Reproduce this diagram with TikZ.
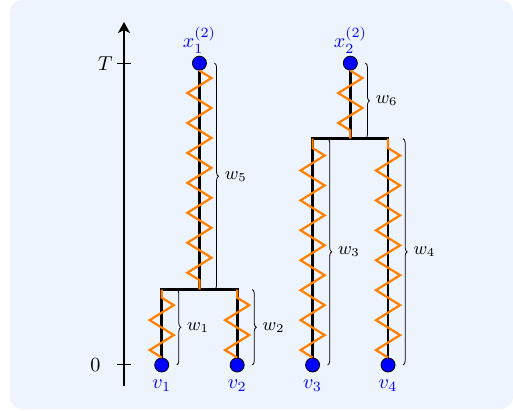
\documentclass[tikz,border=0pt]{standalone}
\usepackage{amsmath}
\usepackage{xcolor}
\usepackage{tikz}
\usetikzlibrary{calc,arrows.meta,decorations.pathmorphing,decorations.pathreplacing}
\definecolor{panelBlue}{HTML}{EEF4FD}
\definecolor{walkOrange}{HTML}{FF8000}
\definecolor{leafBlue}{HTML}{0000FF}
\tikzset{
  treenode/.style={circle, draw=black, fill=leafBlue, line width=0.4pt, minimum size=7pt, inner sep=0pt},
  leaflabel/.style={text=leafBlue},
  rootlabel/.style={text=leafBlue, inner sep=1pt},
  branch/.style={draw=black, line width=1.4pt},
  walk/.style={draw=walkOrange, line width=1.1pt, decorate, decoration={zigzag, segment length=14.9pt, amplitude=6pt}},
  wbrace/.style={draw=black, line width=0.4pt, decorate, decoration={brace, amplitude=2pt}},
  wlabel/.style={font=\small, right, inner sep=1pt, xshift=4pt},
  timeaxis/.style={-{Stealth[length=5.5pt,width=6pt,inset=1.5pt]}, line width=1.2pt},
  tick/.style={line width=0.5pt},
}

\begin{document}
\begin{tikzpicture}[x=0.88cm,y=0.88cm]
  \useasboundingbox (-2.465,-0.895) rectangle (7.734,7.256);
  \fill[panelBlue, rounded corners=6pt] (-2.266,-0.875) rectangle (7.734,7.256);

  % Time axis
  \coordinate (tbot) at (0,-0.42);
  \coordinate (ttop) at (0,6.82);
  \draw[timeaxis] (tbot) -- (ttop);
  \draw[tick] (-0.13,6) -- (0.13,6);
  \draw[tick] (-0.13,0) -- (0.13,0);
  \node (lblT) at (-0.37,6) {$T$};
  \node (lbl0) at (-0.57,0) {$0$};

  % Leaves and roots
  \node[treenode, label={[leaflabel]below:$v_1$}] (v1) at (0.75,0) {};
  \node[treenode, label={[leaflabel]below:$v_2$}] (v2) at (2.25,0) {};
  \node[treenode, label={[leaflabel]below:$v_3$}] (v3) at (3.75,0) {};
  \node[treenode, label={[leaflabel]below:$v_4$}] (v4) at (5.25,0) {};
  \node[treenode, label={[rootlabel]above:$x_1^{(2)}$}] (x1) at (1.5,6) {};
  \node[treenode, label={[rootlabel]above:$x_2^{(2)}$}] (x2) at (4.5,6) {};

  % Merge points
  \coordinate (m1) at (1.5,1.5);
  \coordinate (m2) at (4.5,4.5);
  \coordinate (c1) at (v1 |- m1);
  \coordinate (c2) at (v2 |- m1);
  \coordinate (c3) at (v3 |- m2);
  \coordinate (c4) at (v4 |- m2);

  % Trees
  \draw[branch] (v1) -- (c1) -- (c2) -- (v2);
  \draw[branch] (x1) -- (m1);
  \draw[branch] (v3) -- (c3) -- (c4) -- (v4);
  \draw[branch] (x2) -- (m2);

  % Random walks
  \foreach \leaf/\joint in {v1/c1, v2/c2, v3/c3, v4/c4, x1/m1, x2/m2}
    \draw[walk] (\leaf) -- (\joint);

  % Weights
  \draw[wbrace] ($(c1)+(0.3,0)$) -- ($(v1)+(0.3,0)$) node[wlabel, midway] {$w_1$};
  \draw[wbrace] ($(c2)+(0.3,0)$) -- ($(v2)+(0.3,0)$) node[wlabel, midway] {$w_2$};
  \draw[wbrace] ($(c3)+(0.3,0)$) -- ($(v3)+(0.3,0)$) node[wlabel, midway] {$w_3$};
  \draw[wbrace] ($(c4)+(0.3,0)$) -- ($(v4)+(0.3,0)$) node[wlabel, midway] {$w_4$};
  \draw[wbrace] ($(x1)+(0.3,0)$) -- ($(m1)+(0.3,0)$) node[wlabel, midway] {$w_5$};
  \draw[wbrace] ($(x2)+(0.3,0)$) -- ($(m2)+(0.3,0)$) node[wlabel, midway] {$w_6$};
\end{tikzpicture}
\end{document}
